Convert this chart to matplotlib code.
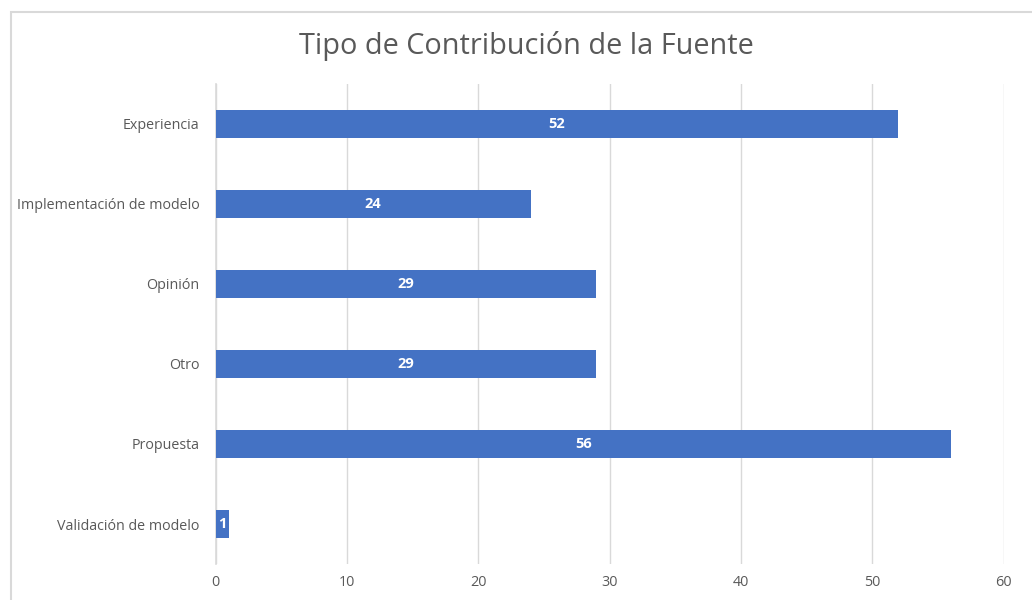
import matplotlib.pyplot as plt
from matplotlib.patches import Rectangle

categorias = ["Experiencia", "Implementación de modelo", "Opinión", "Otro",
              "Propuesta", "Validación de modelo"]
valores = [52, 24, 29, 29, 56, 1]
ticks_x = [0, 10, 20, 30, 40, 50, 60]

plt.rcParams['font.family'] = ['Open Sans', 'DejaVu Sans']

fig = plt.figure(figsize=(10.32, 6.0), dpi=100, facecolor='white')

# chart frame (cropped on right/bottom)
fig.patches.append(Rectangle((10.5 / 1032, -0.1), 1.5, 1 - 11.5 / 600 + 0.1,
                             transform=fig.transFigure, fill=False,
                             edgecolor='#d9d9d9', linewidth=1.5))

ax = fig.add_axes([215.5 / 1032, 1 - 564 / 600, 788 / 1032, 480 / 600])
y = list(range(len(categorias)))
bars = ax.barh(y, valores, height=0.345, color='#4472c4', zorder=3)

for b, v in zip(bars, valores):
    ax.text(b.get_width() / 2, b.get_y() + b.get_height() / 2, str(v),
            ha='center', va='center', color='white', fontsize=10.5,
            fontweight='bold', zorder=4)

ax.set_yticks(y)
ax.set_yticklabels(categorias, fontsize=10.3, color='#595959')
ax.set_ylim(len(categorias) - 0.5, -0.5)
ax.set_xlim(0, 60)
ax.set_xticks(ticks_x)
ax.set_xticklabels([str(t) for t in ticks_x], fontsize=10.4, color='#595959')
ax.tick_params(length=0, pad=8)
ax.tick_params(axis='y', pad=11.5)
ax.xaxis.grid(True, color='#d9d9d9', linewidth=1)
ax.set_axisbelow(True)
for s in ['top', 'right', 'bottom']:
    ax.spines[s].set_visible(False)
ax.spines['left'].set_color('#d9d9d9')
ax.spines['left'].set_linewidth(1.2)

fig.text(526 / 1032, 1 - 46 / 600, "Tipo de Contribución de la Fuente",
         ha='center', va='center', fontsize=20.8, color='#595959')

fig.savefig('out.png', dpi=100, facecolor='white')
